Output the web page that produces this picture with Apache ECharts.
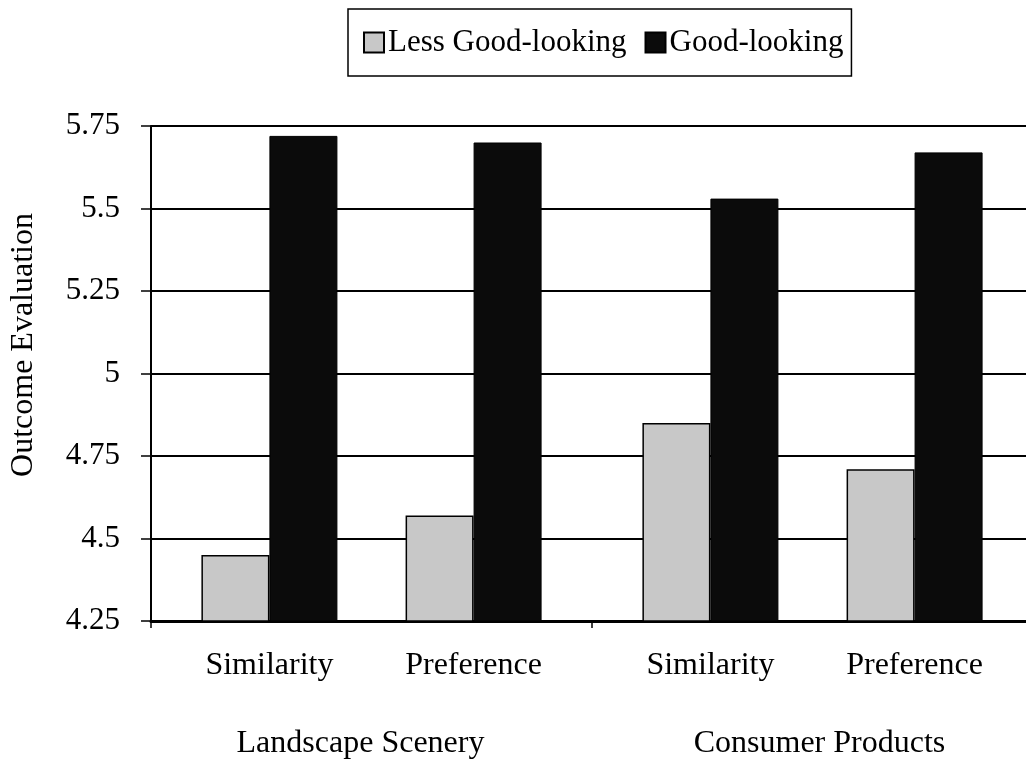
<!DOCTYPE html>
<html>
<head>
<meta charset="utf-8">
<script src="https://cdn.jsdelivr.net/npm/echarts@6/dist/echarts.min.js"></script>
<style>
  html, body { margin: 0; padding: 0; background: #fff; }
  #chart { width: 1026px; height: 759px; }
</style>
</head>
<body>
<div id="chart"></div>
<script>
// Outcome evaluation by stimulus domain and judgement task
const groups = ['Landscape Scenery', 'Consumer Products'];
const tasks = ['Similarity', 'Preference'];
const seriesNames = ['Less Good-looking', 'Good-looking'];
const lessGoodLooking = [4.45, 4.57, 4.85, 4.71];
const goodLooking = [5.72, 5.70, 5.53, 5.67];
const yMin = 4.25, yMax = 5.75, yStep = 0.25;

const FONT = '"Liberation Serif", "Times New Roman", serif';
const PAD = 0.58; // space between group edge and the first/last task slot
const xMin = -PAD, xMax = tasks.length - 1 + PAD;

const grids = [], xAxes = [], yAxes = [], series = [];
groups.forEach((g, gi) => {
  grids.push({ left: 151 + gi * 441, top: 126, width: 441, height: 495,
               outerBoundsMode: 'none', containLabel: false });
  xAxes.push({
    type: 'value', gridIndex: gi, min: xMin, max: xMax,
    name: g, nameLocation: 'middle', nameGap: 107,
    nameTextStyle: { fontFamily: FONT, fontSize: 32, color: '#000',
                     padding: gi === 0 ? [0, 22, 0, 0] : [0, 0, 0, 14] },
    axisLine: { show: true, onZero: false, lineStyle: { color: '#000', width: 3 } },
    axisTick: { show: true, length: 7, lineStyle: { color: '#000', width: 1.5 },
                customValues: gi === 0 ? [xMin, xMax] : [xMin] },
    axisLabel: { show: true, margin: 29, fontFamily: FONT, fontSize: 32, color: '#000',
                 customValues: tasks.map((t, i) => i),
                 formatter: v => tasks[Math.round(v)] },
    splitLine: { show: false }
  });
  yAxes.push({
    type: 'value', gridIndex: gi, min: yMin, max: yMax, interval: yStep,
    axisLine: { show: gi === 0, onZero: false, lineStyle: { color: '#000', width: 2 } },
    axisTick: { show: gi === 0, length: 10, lineStyle: { color: '#000', width: 1.5 } },
    axisLabel: { show: gi === 0, margin: 31, fontFamily: FONT, fontSize: 31, color: '#000' },
    splitLine: { show: true, lineStyle: { color: '#000', width: 2 } }
  });
  const idx = tasks.map((t, i) => gi * tasks.length + i);
  series.push({
    name: seriesNames[0], type: 'bar', xAxisIndex: gi, yAxisIndex: gi,
    barWidth: 68, barGap: '0%',
    itemStyle: { color: '#c8c8c8', borderColor: '#000', borderWidth: 1.5 },
    data: idx.map((k, i) => [i, lessGoodLooking[k]])
  });
  series.push({
    name: seriesNames[1], type: 'bar', xAxisIndex: gi, yAxisIndex: gi,
    barWidth: 68, barGap: '0%',
    itemStyle: { color: '#0b0b0b', borderColor: '#000', borderWidth: 1 },
    data: idx.map((k, i) => [i, goodLooking[k]])
  });
});

const chart = echarts.init(document.getElementById('chart'), null, { renderer: 'canvas' });
chart.setOption({
  animation: false,
  backgroundColor: '#fff',
  grid: grids,
  xAxis: xAxes,
  yAxis: yAxes,
  legend: {
    data: seriesNames,
    left: 348, top: 9,
    padding: [18, 8, 18, 15],
    borderColor: '#000', borderWidth: 1.5,
    icon: 'rect', itemWidth: 20, itemHeight: 20, itemGap: 18,
    textStyle: { fontFamily: FONT, fontSize: 31, color: '#000', padding: [0, 0, 0, -1] },
    selectedMode: false
  },
  graphic: [{
    type: 'text', x: 24, y: 345, rotation: Math.PI / 2,
    style: { text: 'Outcome Evaluation', fontFamily: FONT, fontSize: 32, fill: '#000',
             align: 'center', verticalAlign: 'middle' }
  }],
  series: series
});
</script>
</body>
</html>
